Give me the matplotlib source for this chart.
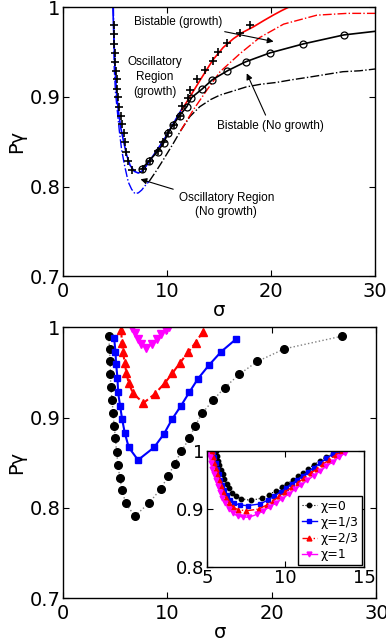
import numpy as np
import matplotlib
matplotlib.use("Agg")
import matplotlib.pyplot as plt

plt.rcParams['font.family'] = ['Liberation Sans Narrow', 'DejaVu Sans']

# ---- top panel data ----
blue_solid_x = [4.8, 4.9, 5.0, 5.15, 5.32, 5.55, 5.8, 6.1, 6.44, 6.85, 7.24, 7.7, 8.3, 9.0, 9.7, 10.4, 11.0, 11.4]
blue_solid_y = [1.0, 0.965, 0.933, 0.905, 0.885, 0.866, 0.852, 0.836, 0.824, 0.817, 0.815, 0.818, 0.828, 0.840, 0.852, 0.866, 0.878, 0.886]

blue_dd_x = [4.85, 4.93, 5.05, 5.22, 5.42, 5.64, 5.95, 6.28, 6.6, 6.92, 7.25, 7.56, 7.9, 8.3]
blue_dd_y = [1.0, 0.933, 0.905, 0.885, 0.862, 0.841, 0.822, 0.805, 0.797, 0.792, 0.793, 0.796, 0.801, 0.806]

black_dd_x = [8.3, 9.0, 9.6, 10.6, 11.3, 12.2, 13.15, 14.2, 15.1, 16.5, 17.6, 19.0, 20.5, 22.0, 23.7, 25.3, 26.9, 28.5, 30.0]
black_dd_y = [0.806, 0.818, 0.829, 0.848, 0.862, 0.878, 0.889, 0.897, 0.902, 0.907, 0.911, 0.914, 0.916, 0.919, 0.922, 0.925, 0.928, 0.929, 0.931]

red_solid_x = [11.4, 12.2, 13.15, 14.4, 15.4, 16.4, 17.3, 18.3, 19.3, 20.2, 21.0, 21.7]
red_solid_y = [0.885, 0.900, 0.918, 0.941, 0.955, 0.965, 0.972, 0.978, 0.985, 0.991, 0.996, 1.0]

red_dd_x = [11.3, 12.5, 13.8, 15.1, 17.0, 18.9, 21.2, 24.4, 27.3, 30.0]
red_dd_y = [0.862, 0.885, 0.907, 0.928, 0.948, 0.966, 0.981, 0.991, 0.993, 0.993]

circ_x = [7.6, 8.3, 9.1, 9.7, 10.1, 10.6, 11.2, 11.9, 12.35, 13.4, 14.35, 15.8, 17.55, 19.9, 23.1, 27.0, 30.0]
circ_y = [0.820, 0.829, 0.839, 0.849, 0.860, 0.869, 0.879, 0.889, 0.899, 0.909, 0.919, 0.929, 0.939, 0.949, 0.959, 0.969, 0.973]

plus_x = [4.91, 4.91, 4.91, 4.97, 5.04, 5.13, 5.2, 5.23, 5.29, 5.36, 5.55, 5.68, 5.87, 5.94, 6.1, 6.3, 6.67,
          7.7, 8.4, 9.1, 9.62, 10.1, 10.65, 11.2, 11.4, 12.0, 12.2, 12.85, 13.65, 14.4, 14.87, 15.74, 17.0, 17.98]
plus_y = [0.98, 0.97, 0.959, 0.949, 0.939, 0.929, 0.92, 0.909, 0.90, 0.889, 0.879, 0.870, 0.860, 0.85, 0.839, 0.829, 0.818,
          0.819, 0.829, 0.84, 0.85, 0.86, 0.869, 0.879, 0.89, 0.899, 0.908, 0.92, 0.93, 0.94, 0.95, 0.96, 0.971, 0.98]

# ---- bottom panel data ----
chi0_x = [4.39, 4.46, 4.52, 4.55, 4.58, 4.71, 4.8, 4.9, 5.03, 5.13, 5.28, 5.44, 5.67, 6.0, 6.88,
          8.21, 9.36, 10.06, 10.7, 11.35, 12.1, 12.65, 13.35, 14.36, 15.47, 16.9, 18.6, 21.2, 26.7]
chi0_y = [0.990, 0.976, 0.962, 0.948, 0.934, 0.919, 0.905, 0.891, 0.877, 0.862, 0.848, 0.833, 0.820, 0.805, 0.791,
          0.805, 0.821, 0.835, 0.849, 0.863, 0.877, 0.891, 0.905, 0.919, 0.933, 0.948, 0.962, 0.976, 0.990]
chi13_x = [4.9, 5.03, 5.09, 5.22, 5.28, 5.47, 5.67, 5.92, 6.3, 7.19, 8.73, 9.68, 10.44, 11.3, 12.1, 12.93, 13.98, 15.16, 16.59]
chi13_y = [0.988, 0.973, 0.959, 0.944, 0.928, 0.913, 0.898, 0.883, 0.867, 0.853, 0.867, 0.882, 0.898, 0.913, 0.928, 0.943, 0.958, 0.973, 0.987]
chi23_x = [5.6, 5.62, 5.76, 5.92, 6.08, 6.3, 6.7, 7.7, 8.79, 9.74, 10.48, 11.17, 11.97, 12.7, 13.4]
chi23_y = [0.997, 0.983, 0.972, 0.960, 0.949, 0.938, 0.927, 0.916, 0.926, 0.938, 0.949, 0.960, 0.972, 0.983, 0.995]
chi1_x = [6.6, 6.9, 7.2, 7.5, 8.0, 8.5, 9.0, 9.4, 9.9, 10.2]
chi1_y = [0.999, 0.993, 0.987, 0.981, 0.977, 0.981, 0.987, 0.992, 0.997, 1.0]

# inset data
in0_x = [5.55, 5.62, 5.7, 5.8, 5.9, 6.0, 6.12, 6.25, 6.4, 6.6, 6.85, 7.2, 7.8,
         8.5, 8.95, 9.4, 9.75, 10.1, 10.45, 10.8, 11.1, 11.45, 11.8, 12.2, 12.6, 13.0, 13.4]
in0_y = [1.0, 0.992, 0.984, 0.976, 0.968, 0.96, 0.952, 0.944, 0.936, 0.928, 0.922, 0.918, 0.915,
         0.919, 0.925, 0.932, 0.938, 0.944, 0.95, 0.957, 0.963, 0.97, 0.977, 0.984, 0.991, 0.996, 1.0]
in13_x = [5.4, 5.48, 5.56, 5.65, 5.75, 5.86, 5.98, 6.12, 6.3, 6.5, 6.75, 7.1, 7.6,
          8.4, 8.9, 9.3, 9.7, 10.05, 10.4, 10.75, 11.1, 11.45, 11.8, 12.2, 12.6, 13.0, 13.45]
in13_y = [1.0, 0.99, 0.98, 0.97, 0.96, 0.951, 0.942, 0.933, 0.924, 0.916, 0.91, 0.907, 0.906,
          0.909, 0.916, 0.923, 0.93, 0.937, 0.944, 0.951, 0.958, 0.965, 0.972, 0.98, 0.988, 0.995, 1.0]
in23_x = [5.3, 5.38, 5.46, 5.55, 5.65, 5.76, 5.88, 6.02, 6.2, 6.4, 6.65, 7.0, 7.5,
          8.3, 8.8, 9.2, 9.6, 10.0, 10.4, 10.8, 11.2, 11.6, 12.0, 12.4, 12.8, 13.2, 13.6]
in23_y = [1.0, 0.99, 0.98, 0.97, 0.96, 0.95, 0.94, 0.93, 0.92, 0.911, 0.903, 0.899, 0.897,
          0.9, 0.907, 0.914, 0.922, 0.93, 0.938, 0.946, 0.954, 0.962, 0.97, 0.978, 0.986, 0.994, 1.0]
in1_x = [5.1, 5.18, 5.26, 5.35, 5.45, 5.56, 5.68, 5.82, 5.98, 6.16, 6.38, 6.64, 6.95, 7.3,
         7.7, 8.2, 8.6, 9.0, 9.4, 9.8, 10.2, 10.6, 11.0, 11.4, 11.8, 12.2, 12.6, 13.0, 13.4, 13.8]
in1_y = [1.0, 0.99, 0.98, 0.97, 0.96, 0.95, 0.94, 0.93, 0.92, 0.91, 0.901, 0.893, 0.888, 0.886,
         0.886, 0.891, 0.897, 0.904, 0.911, 0.918, 0.926, 0.934, 0.942, 0.95, 0.958, 0.966, 0.974, 0.982, 0.99, 0.997]

chi_labels = ['χ=0', 'χ=1/3', 'χ=2/3', 'χ=1']
ytick_vals = [0.7, 0.8, 0.9, 1.0]
ytick_labels = ['0.7', '0.8', '0.9', '1']
xtick_vals = [0, 10, 20, 30]


def style_axes(ax, fs=14):
    ax.tick_params(direction='in', top=True, right=True, length=4, width=0.8,
                   labelsize=fs)
    ax.tick_params(axis='y', pad=2)
    ax.tick_params(axis='x', pad=4)
    for s in ax.spines.values():
        s.set_linewidth(1.0)


fig = plt.figure(figsize=(3.86, 6.44), dpi=100)

# ---------------- top panel ----------------
ax1 = fig.add_axes([0.163, 0.571, 0.809, 0.418])
ax1.plot(blue_dd_x, blue_dd_y, '-.', color='blue', lw=1.0)
ax1.plot(black_dd_x, black_dd_y, '-.', color='black', lw=1.0)
ax1.plot(red_dd_x, red_dd_y, '-.', color='red', lw=1.0)
ax1.plot(blue_solid_x, blue_solid_y, '-', color='blue', lw=1.2)
ax1.plot(red_solid_x, red_solid_y, '-', color='red', lw=1.2)
ax1.plot(circ_x, circ_y, '-', color='black', lw=1.2, marker='o', ms=5,
         mfc='none', mec='black', mew=0.9, markevery=list(range(len(circ_x) - 1)))
ax1.plot(plus_x, plus_y, '+', color='black', ms=6, mew=1.2)

ax1.set_xlim(0, 30)
ax1.set_ylim(0.7, 1.0)
ax1.set_xticks(xtick_vals)
ax1.set_yticks(ytick_vals)
ax1.set_yticklabels(ytick_labels)
ax1.set_xlabel('σ', fontsize=14, labelpad=0)
ax1.set_ylabel('Pγ', fontsize=14, labelpad=2)
style_axes(ax1)

afs = 8.5
afam = ['Liberation Sans', 'DejaVu Sans']
arr = dict(arrowstyle='-|>', color='black', lw=0.8, mutation_scale=9)
ax1.text(8.8, 0.922, 'Oscillatory\nRegion\n(growth)', ha='center', va='center',
         fontsize=afs, family=afam, linespacing=1.3)
ax1.annotate('Bistable (growth)', xy=(20.5, 0.961), xytext=(11.1, 0.983),
             ha='center', va='center', fontsize=afs, family=afam, arrowprops=arr)
ax1.annotate('Bistable (No growth)', xy=(17.55, 0.929), xytext=(19.96, 0.867),
             ha='center', va='center', fontsize=afs, family=afam, arrowprops=arr)
ax1.annotate('Oscillatory Region\n(No growth)', xy=(7.2, 0.809), xytext=(15.7, 0.779),
             ha='center', va='center', fontsize=afs, family=afam, arrowprops=arr)

# ---------------- bottom panel ----------------
ax2 = fig.add_axes([0.163, 0.071, 0.812, 0.421])
ax2.plot(chi0_x[:15], chi0_y[:15], ':', color='gray', lw=1.0)
ax2.plot(chi0_x[14:], chi0_y[14:], ':', color='gray', lw=1.0)
ax2.plot(chi0_x, chi0_y, 'o', color='black', ms=5.5, ls='none')
ax2.plot(chi13_x, chi13_y, '-s', color='blue', ms=5, lw=1.5)
ax2.plot(chi23_x, chi23_y, '--^', color='red', ms=6, lw=1.5)
ax2.plot(chi1_x, chi1_y, '-v', color='magenta', ms=6, lw=1.5)
ax2.set_xlim(0, 30)
ax2.set_ylim(0.7, 1.0)
ax2.set_xticks(xtick_vals)
ax2.set_yticks(ytick_vals)
ax2.set_yticklabels(ytick_labels)
ax2.set_xlabel('σ', fontsize=14, labelpad=0)
ax2.set_ylabel('Pγ', fontsize=14, labelpad=2)
style_axes(ax2)

# inset
ax3 = fig.add_axes([0.536, 0.120, 0.407, 0.179])
ax3.plot(in0_x, in0_y, ':o', color='black', mec='black', ms=3.2, lw=0.8, label=chi_labels[0])
ax3.plot(in13_x, in13_y, '-s', color='blue', ms=3.2, lw=1.0, label=chi_labels[1])
ax3.plot(in23_x, in23_y, '-.^', color='red', ms=3.5, lw=1.0, label=chi_labels[2])
ax3.plot(in1_x, in1_y, '-v', color='magenta', ms=3.5, lw=1.0, label=chi_labels[3])
ax3.set_xlim(5, 15)
ax3.set_ylim(0.8, 1.0)
ax3.set_xticks([5, 10, 15])
ax3.set_yticks([0.8, 0.9, 1.0])
ax3.set_yticklabels(['0.8', '0.9', '1'])
style_axes(ax3, fs=13)
ax3.tick_params(axis='x', pad=2)
leg = ax3.legend(loc='lower right', fontsize=9, handlelength=1.2, handletextpad=0.3,
                 borderpad=0.3, labelspacing=0.25, borderaxespad=0.15,
                 fancybox=False, framealpha=1, edgecolor='black')
leg.get_frame().set_linewidth(1.0)

fig.savefig('out.png', dpi=100)
